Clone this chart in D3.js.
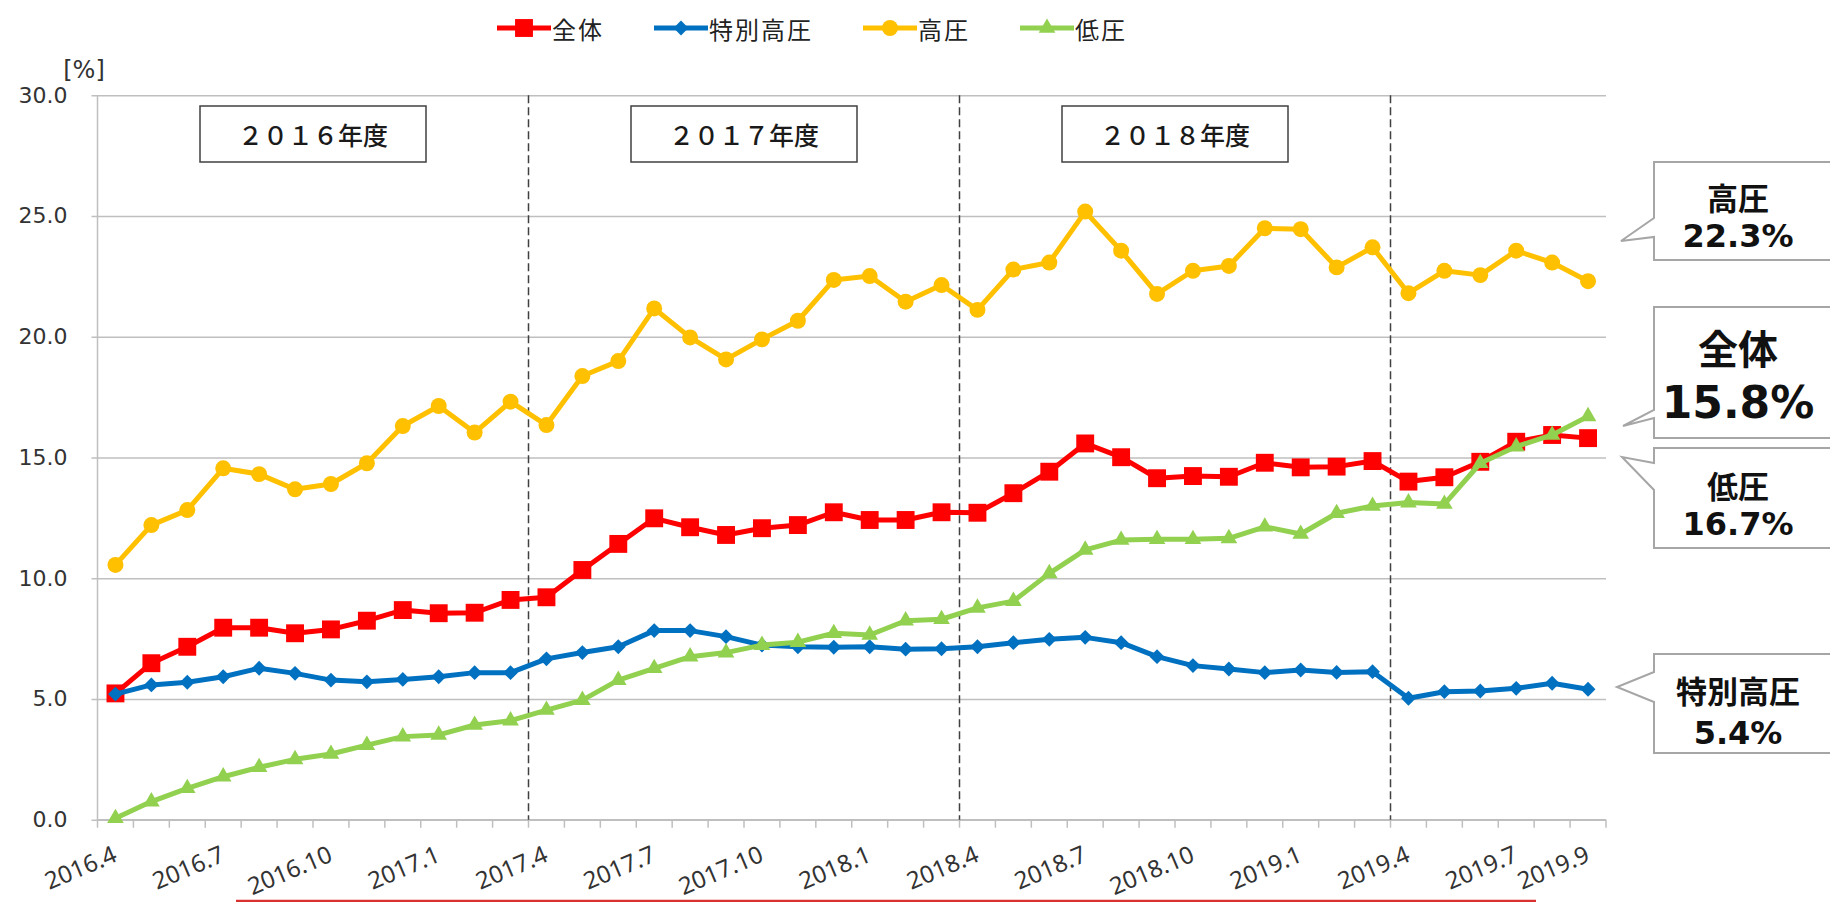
<!DOCTYPE html>
<html>
<head>
<meta charset="utf-8">
<script src="https://cdn.jsdelivr.net/npm/d3@7/dist/d3.min.js"></script>
<style>
    html, body { margin: 0; padding: 0; background: #ffffff; }
    svg { display: block; }
</style>
</head>
<body>
<div id="chart"></div>
<script>

// months on the category axis
var categories = [
    '2016.4', '2016.5', '2016.6', '2016.7', '2016.8', '2016.9', '2016.10', '2016.11', '2016.12', '2017.1', '2017.2', '2017.3',
    '2017.4', '2017.5', '2017.6', '2017.7', '2017.8', '2017.9', '2017.10', '2017.11', '2017.12', '2018.1', '2018.2', '2018.3',
    '2018.4', '2018.5', '2018.6', '2018.7', '2018.8', '2018.9', '2018.10', '2018.11', '2018.12', '2019.1', '2019.2', '2019.3',
    '2019.4', '2019.5', '2019.6', '2019.7', '2019.8', '2019.9'
];

var tickLabels = [ '2016.4', '2016.7', '2016.10', '2017.1', '2017.4', '2017.7', '2017.10', '2018.1',
    '2018.4', '2018.7', '2018.10', '2019.1', '2019.4', '2019.7', '2019.9' ];

var yTicks = [ 0, 5, 10, 15, 20, 25, 30 ];

var zentai = [ 5.23, 6.48, 7.16, 7.95, 7.95, 7.72, 7.88, 8.24, 8.68, 8.55, 8.57, 9.10,
    9.21, 10.34, 11.42, 12.48, 12.11, 11.79, 12.07, 12.20, 12.73, 12.41, 12.41, 12.73,
    12.71, 13.52, 14.41, 15.58, 15.01, 14.14, 14.23, 14.20, 14.78, 14.59, 14.62, 14.85,
    14.00, 14.18, 14.82, 15.65, 15.93, 15.8 ];

var tokubetsu = [ 5.20, 5.58, 5.69, 5.92, 6.27, 6.06, 5.78, 5.71, 5.81, 5.92, 6.09, 6.09,
    6.66, 6.92, 7.16, 7.83, 7.83, 7.58, 7.23, 7.16, 7.14, 7.16, 7.06, 7.08,
    7.16, 7.33, 7.47, 7.55, 7.33, 6.75, 6.38, 6.24, 6.09, 6.20, 6.10, 6.13,
    5.03, 5.30, 5.33, 5.44, 5.65, 5.4 ];

var kouatsu = [ 10.55, 12.20, 12.82, 14.55, 14.31, 13.68, 13.90, 14.76, 16.30, 17.13, 16.03, 17.31,
    16.34, 18.37, 18.99, 21.17, 19.97, 19.06, 19.89, 20.66, 22.35, 22.51, 21.45, 22.14,
    21.11, 22.78, 23.07, 25.18, 23.56, 21.77, 22.73, 22.93, 24.49, 24.45, 22.87, 23.70,
    21.80, 22.73, 22.55, 23.56, 23.07, 22.3 ];

var teiatsu = [ 0.06, 0.75, 1.30, 1.78, 2.17, 2.50, 2.72, 3.09, 3.44, 3.51, 3.92, 4.10,
    4.54, 4.95, 5.78, 6.27, 6.75, 6.92, 7.23, 7.35, 7.72, 7.65, 8.24, 8.30,
    8.77, 9.05, 10.20, 11.17, 11.58, 11.61, 11.61, 11.65, 12.13, 11.83, 12.69, 12.99,
    13.13, 13.07, 14.76, 15.45, 15.93, 16.7 ];

var seriesNames = [ '全体', '特別高圧', '高圧', '低圧' ];

var fiscalYears = [ '２０１６年度', '２０１７年度', '２０１８年度' ];
var fiscalStarts = [ '2016.4', '2017.4', '2018.4' ];
var fiscalEnds = [ '2017.3', '2018.3', '2019.3' ];

var boundaries = [ '2017.4', '2018.4', '2019.4' ];

// series order = draw order (later on top)
var series = [
    { name: seriesNames[0], values: zentai, color: '#ff0000', symbol: 'square' },
    { name: seriesNames[1], values: tokubetsu, color: '#0070c0', symbol: 'diamond' },
    { name: seriesNames[2], values: kouatsu, color: '#ffc000', symbol: 'circle' },
    { name: seriesNames[3], values: teiatsu, color: '#92d050', symbol: 'triangle' }
];

// callouts on the right, value text comes from the last point of the series
var callouts = [
    { series: 2, top: 162, height: 98, tipX: 1621, tipY: 241, attach: [ 218, 237 ], lines: [ 196, 236 ], sizes: [ 31, 32 ] },
    { series: 0, top: 307, height: 131, tipX: 1623, tipY: 426, attach: [ 410, 418 ], lines: [ 347, 402 ], sizes: [ 40, 44 ] },
    { series: 3, top: 448, height: 100, tipX: 1622, tipY: 457, attach: [ 463, 490 ], lines: [ 484, 524 ], sizes: [ 31, 32 ] },
    { series: 1, top: 654, height: 99, tipX: 1617, tipY: 687, attach: [ 672, 702 ], lines: [ 689, 733 ], sizes: [ 31, 32 ] }
];

var width = 1830,
    height = 902;

var margin = { top: 95.2, left: 97.5, right: 1606, bottom: 819.7 };

var svg = d3.select('#chart').append('svg')
    .attr('width', width)
    .attr('height', height);

svg.append('rect')
    .attr('width', width)
    .attr('height', height)
    .attr('fill', '#ffffff');

var x = d3.scaleBand()
    .domain( categories )
    .range([ margin.left, margin.right ])
    .padding( 0 );

var y = d3.scaleLinear()
    .domain([ 0, 30 ])
    .range([ margin.bottom, margin.top ]);

function cx ( c ) {
    return x( c ) + x.bandwidth() / 2;
}

var numFont = '"DejaVu Sans", "Noto Sans CJK JP", sans-serif';
var labelFont = '"Noto Sans", sans-serif';
var jpFont = '"Noto Sans CJK JP", sans-serif';

/* grid + y axis */

var yAxis = d3.axisLeft( y )
    .tickValues( yTicks )
    .tickSize( -( margin.right - margin.left ) )
    .tickPadding( 30 )
    .tickFormat( d3.format('.1f') );

var gy = svg.append('g')
    .attr('transform', 'translate(' + margin.left + ',0)')
    .call( yAxis );

gy.select('.domain').remove();

gy.selectAll('.tick line')
    .attr('x1', -6)
    .attr('stroke', '#bfbfbf')
    .attr('stroke-width', 1.5);

gy.selectAll('.tick text')
    .attr('fill', '#333333')
    .style('font-family', numFont)
    .style('font-size', '22px');

svg.append('line')
    .attr('x1', margin.left)
    .attr('x2', margin.left)
    .attr('y1', margin.top)
    .attr('y2', margin.bottom)
    .attr('stroke', '#bfbfbf')
    .attr('stroke-width', 1.5);

svg.append('text')
    .attr('x', 84)
    .attr('y', 70)
    .attr('text-anchor', 'middle')
    .attr('dominant-baseline', 'central')
    .attr('fill', '#333333')
    .style('font-family', numFont)
    .style('font-size', '24px')
    .text('[%]');

/* x axis: ticks at category boundaries */

var gx = svg.append('g');

gx.append('line')
    .attr('x1', margin.left)
    .attr('x2', margin.right)
    .attr('y1', y( 0 ))
    .attr('y2', y( 0 ))
    .attr('stroke', '#bfbfbf')
    .attr('stroke-width', 1.5);

gx.selectAll('.xtick')
    .data( categories.concat([ null ]) )
    .enter().append('line')
    .attr('class', 'xtick')
    .attr('x1', function ( d ) { return d === null ? margin.right : x( d ); })
    .attr('x2', function ( d ) { return d === null ? margin.right : x( d ); })
    .attr('y1', y( 0 ))
    .attr('y2', y( 0 ) + 8)
    .attr('stroke', '#bfbfbf')
    .attr('stroke-width', 1.5);

gx.selectAll('.xlabel')
    .data( tickLabels )
    .enter().append('text')
    .attr('class', 'xlabel')
    .attr('text-anchor', 'end')
    .attr('transform', function ( d ) {
        return 'translate(' + ( cx( d ) + 3 ) + ',' + ( y( 0 ) + 41 ) + ') rotate(-23)';
    })
    .attr('fill', '#333333')
    .style('font-family', labelFont)
    .style('font-size', '24px')
    .text( function ( d ) { return d; });

/* fiscal year separators and boxes */

svg.selectAll('.fy-line')
    .data( boundaries )
    .enter().append('line')
    .attr('class', 'fy-line')
    .attr('x1', function ( d ) { return x( d ); })
    .attr('x2', function ( d ) { return x( d ); })
    .attr('y1', margin.top)
    .attr('y2', margin.bottom)
    .attr('stroke', '#404040')
    .attr('stroke-width', 1.5)
    .attr('stroke-dasharray', '8,4');

var fy = svg.selectAll('.fy-box')
    .data( fiscalYears )
    .enter().append('g')
    .attr('class', 'fy-box')
    .attr('transform', function ( d, i ) {
        var mid = ( x( fiscalStarts[ i ] ) + x( fiscalEnds[ i ] ) + x.bandwidth() ) / 2;
        return 'translate(' + mid + ',134)';
    });

fy.append('rect')
    .attr('x', -113)
    .attr('y', -28)
    .attr('width', 226)
    .attr('height', 56)
    .attr('fill', '#ffffff')
    .attr('stroke', '#404040')
    .attr('stroke-width', 1.5);

fy.append('text')
    .attr('text-anchor', 'middle')
    .attr('dominant-baseline', 'central')
    .attr('fill', '#1a1a1a')
    .style('font-family', jpFont)
    .style('font-size', '25px')
    .style('font-weight', 500)
    .text( function ( d ) { return d; });

/* lines and markers */

function symbolPath ( type ) {
    if ( type === 'square' ) return d3.symbol().type( d3.symbolSquare ).size( 320 )();
    if ( type === 'diamond' ) return d3.symbol().type( d3.symbolSquare ).size( 110 )();
    if ( type === 'circle' ) return d3.symbol().type( d3.symbolCircle ).size( 200 )();
    return d3.symbol().type( d3.symbolTriangle ).size( 120 )();
}

var line = d3.line()
    .x( function ( d, i ) { return cx( categories[ i ] ); })
    .y( function ( d ) { return y( d ); });

series.forEach( function ( s ) {

    var g = svg.append('g');

    g.append('path')
        .datum( s.values )
        .attr('d', line)
        .attr('fill', 'none')
        .attr('stroke', s.color)
        .attr('stroke-width', 5)
        .attr('stroke-linejoin', 'round');

    g.selectAll('.mark')
        .data( s.values )
        .enter().append('path')
        .attr('class', 'mark')
        .attr('d', symbolPath( s.symbol ))
        .attr('transform', function ( d, i ) {
            var t = 'translate(' + cx( categories[ i ] ) + ',' + y( d ) + ')';
            return s.symbol === 'diamond' ? t + ' rotate(45)' : t;
        })
        .attr('fill', s.color);

});

/* legend */

var legend = svg.append('g')
    .attr('transform', 'translate(497,28)');

var lx = 0;

series.forEach( function ( s ) {

    var item = legend.append('g')
        .attr('transform', 'translate(' + lx + ',0)');

    item.append('line')
        .attr('x1', 0)
        .attr('x2', 54)
        .attr('stroke', s.color)
        .attr('stroke-width', 5);

    item.append('path')
        .attr('d', symbolPath( s.symbol ))
        .attr('transform', 'translate(27,0)' + ( s.symbol === 'diamond' ? ' rotate(45)' : '' ))
        .attr('fill', s.color);

    var t = item.append('text')
        .attr('x', 55)
        .attr('dominant-baseline', 'central')
        .attr('fill', '#222222')
        .style('font-family', jpFont)
        .style('font-size', '24px')
        .style('letter-spacing', '2px')
        .text( s.name );

    lx += 55 + t.node().getComputedTextLength() + 50;

});

/* callouts */

var boxLeft = 1654;

callouts.forEach( function ( c ) {

    var s = series[ c.series ];
    var last = s.values[ s.values.length - 1 ];

    var p = d3.path();
    p.moveTo( boxLeft, c.top );
    p.lineTo( width + 10, c.top );
    p.lineTo( width + 10, c.top + c.height );
    p.lineTo( boxLeft, c.top + c.height );
    p.lineTo( boxLeft, c.attach[ 1 ] );
    p.lineTo( c.tipX, c.tipY );
    p.lineTo( boxLeft, c.attach[ 0 ] );
    p.closePath();

    svg.append('path')
        .attr('d', p.toString())
        .attr('fill', '#ffffff')
        .attr('stroke', '#a6a6a6')
        .attr('stroke-width', 2);

    svg.append('text')
        .attr('x', 1738)
        .attr('y', c.lines[ 0 ])
        .attr('text-anchor', 'middle')
        .attr('dominant-baseline', 'central')
        .attr('fill', '#111111')
        .style('font-family', jpFont)
        .style('font-weight', 'bold')
        .style('font-size', c.sizes[ 0 ] + 'px')
        .text( s.name );

    svg.append('text')
        .attr('x', 1738)
        .attr('y', c.lines[ 1 ])
        .attr('text-anchor', 'middle')
        .attr('dominant-baseline', 'central')
        .attr('fill', '#111111')
        .style('font-family', numFont)
        .style('font-weight', 'bold')
        .style('font-size', c.sizes[ 1 ] + 'px')
        .text( last.toFixed( 1 ) + '%' );

});

// red frame edge cut off at the bottom of the slide
svg.append('line')
    .attr('x1', 236)
    .attr('x2', 1536)
    .attr('y1', 901)
    .attr('y2', 901)
    .attr('stroke', '#d93030')
    .attr('stroke-width', 2.5);

</script>
</body>
</html>
